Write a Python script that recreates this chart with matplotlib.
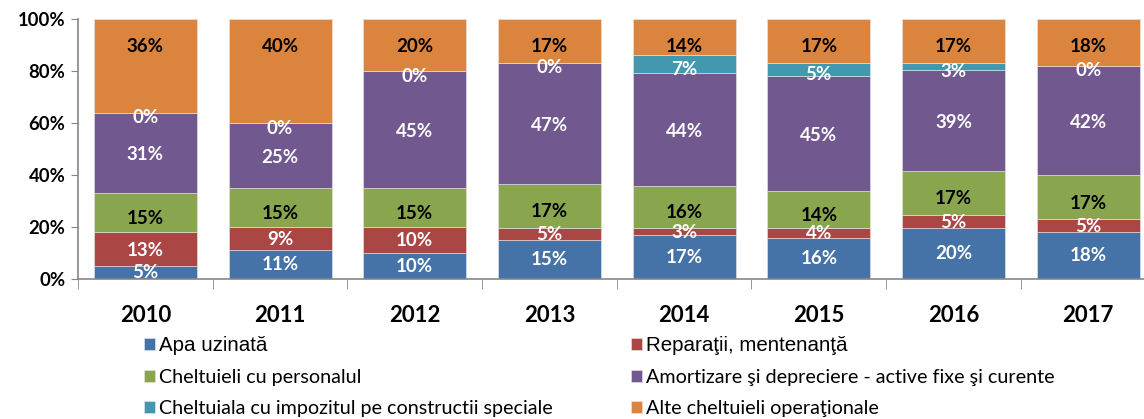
import matplotlib.pyplot as plt
import numpy as np

years = ['2010', '2011', '2012', '2013', '2014', '2015', '2016', '2017']
series_names = ['Apa uzinată',
                'Reparaţii, mentenanţă',
                'Cheltuieli cu personalul',
                'Amortizare şi depreciere - active fixe şi curente',
                'Cheltuiala cu impozitul pe constructii speciale',
                'Alte cheltuieli operaţionale']
apa = [5, 11, 10, 15, 17, 16, 20, 18]
reparatii = [13, 9, 10, 5, 3, 4, 5, 5]
personal = [15, 15, 15, 17, 16, 14, 17, 17]
amortizare = [31, 25, 45, 47, 44, 45, 39, 42]
impozit = [0, 0, 0, 0, 7, 5, 3, 0]
alte = [36, 40, 20, 17, 14, 17, 17, 18]

colors = ['#4572A7', '#AA4643', '#89A54E', '#71588F', '#4198AF', '#DB843D']
label_colors = ['white', 'white', 'black', 'white', 'white', 'black']
# vertical nudge of the data labels, in points
label_shift = [0, -0.7, -4.3, -1.5, -3.6, 0]

data = np.array([apa, reparatii, personal, amortizare, impozit, alte], dtype=float)
shares = data / data.sum(axis=0)

fig = plt.figure(figsize=(11.44, 4.19), dpi=100)
ax = fig.add_axes([78 / 1144, 140 / 419, 1077.5 / 1144, 260 / 419])

x = np.arange(len(years))
bottom = np.zeros(len(years))
for i in range(len(series_names)):
    ax.bar(x, shares[i], 0.765, bottom=bottom, color=colors[i],
           edgecolor='#e8e8e8', linewidth=0.4, label=series_names[i])
    for j in range(len(years)):
        if i == len(series_names) - 1:
            # last series: label sits near the top of the bar
            pos, dy = bottom[j] + shares[i][j], -19.5
        else:
            pos, dy = bottom[j] + shares[i][j] / 2, label_shift[i]
        ax.annotate(f'{int(data[i][j])}%', (x[j], pos), xytext=(0, dy),
                    textcoords='offset points', ha='center', va='center',
                    fontsize=13.5, fontweight='bold', family='Lato',
                    color=label_colors[i])
    bottom += shares[i]

ax.set_xlim(-0.5, len(years) - 0.5)
ax.set_ylim(0, 1)
ax.set_yticks(np.linspace(0, 1, 6))
ax.set_yticklabels([f'{int(v)}%' for v in np.linspace(0, 100, 6)],
                   fontsize=13.3, fontweight='bold', family='Lato')
ax.set_xticks(x)
ax.set_xticklabels(years, fontsize=16, fontweight='bold', family='Lato')
ax.set_xticks(np.arange(-0.5, len(years), 1), minor=True)
ax.tick_params(axis='x', which='major', length=0, pad=19)
ax.tick_params(axis='x', which='minor', length=7, color='#868686')
ax.tick_params(axis='y', length=5, color='#868686', pad=4)
for s in ['top', 'right']:
    ax.spines[s].set_visible(False)
for s in ['left', 'bottom']:
    ax.spines[s].set_color('#868686')
    ax.spines[s].set_linewidth(1.2)

handles, labels = ax.get_legend_handles_labels()
fonts = ['Liberation Sans', 'Liberation Sans', 'Lato', 'Lato', 'Lato', 'Lato']
sizes = [14.8, 14.8, 14.2, 14.2, 14.2, 14.2]
left_idx = [0, 2, 4]
right_idx = [1, 3, 5]
for idx, xpos in [(left_idx, 144 / 1144), (right_idx, 631 / 1144)]:
    leg = fig.legend([handles[k] for k in idx], [labels[k] for k in idx],
                     loc='upper left', bbox_to_anchor=(xpos, 83 / 419),
                     frameon=False, fontsize=14.5, handlelength=0.55,
                     handleheight=0.55, handletextpad=0.2,
                     labelspacing=0.7, borderpad=0, borderaxespad=0)
    for t, k in zip(leg.get_texts(), idx):
        t.set_fontfamily(fonts[k])
        t.set_fontsize(sizes[k])

fig.savefig('out.png', dpi=100)
